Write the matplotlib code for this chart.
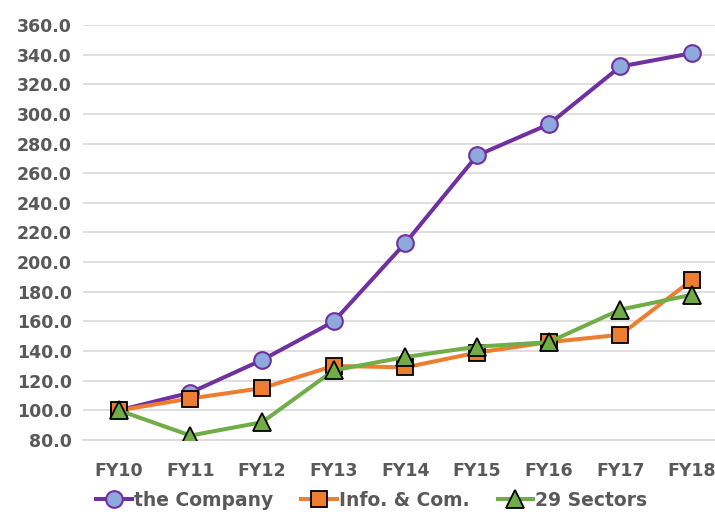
import matplotlib.pyplot as plt

years = ["FY10", "FY11", "FY12", "FY13", "FY14", "FY15", "FY16", "FY17", "FY18"]
company = [100.0, 112.0, 134.0, 160.0, 213.0, 272.0, 293.0, 332.0, 341.0]
info_com = [100.0, 108.0, 115.0, 130.0, 129.0, 139.0, 146.0, 151.0, 188.0]
sectors29 = [100.0, 83.0, 92.0, 127.0, 136.0, 143.0, 146.0, 168.0, 178.0]
yticks = [80, 100, 120, 140, 160, 180, 200, 220, 240, 260, 280, 300, 320, 340, 360]

plt.rcParams["font.family"] = ["DejaVu Sans"]
txt = "#595959"

fig = plt.figure(figsize=(7.15, 5.14), dpi=100)
ax = fig.add_axes([83 / 715, 1 - 440 / 514, 1 - 83 / 715, 415 / 514])

x = range(len(years))
ax.plot(x, company, color="#7030A0", lw=2.9, marker="o", ms=12,
        mfc="#8EA9DB", mec="#7030A0", mew=1.5, label="the Company", zorder=3)
ax.plot(x, info_com, color="#ED7D31", lw=2.9, marker="s", ms=11.5,
        mfc="#ED7D31", mec="black", mew=1.3, label="Info. & Com.", zorder=4)
ax.plot(x, sectors29, color="#70AD47", lw=2.9, marker="^", ms=12.5,
        mfc="#70AD47", mec="black", mew=1.3, label="29 Sectors", zorder=5)

ax.set_ylim(80, 360)
ax.set_xlim(-0.5, 8.32)
ax.set_yticks(yticks)
ax.set_yticklabels([f"{v:.1f}" for v in yticks])
ax.set_xticks(list(x))
ax.set_xticklabels(years)
ax.grid(axis="y", color="#d9d9d9", lw=1.2)
ax.set_axisbelow(True)
for s in ["top", "right", "left"]:
    ax.spines[s].set_visible(False)
ax.spines["bottom"].set_color("#d9d9d9")
ax.spines["bottom"].set_linewidth(1.2)
ax.tick_params(length=0, labelsize=12.5, labelcolor=txt, pad=8)
for lab in ax.get_xticklabels() + ax.get_yticklabels():
    lab.set_fontweight("bold")
ax.tick_params(axis="x", pad=16)

leg = fig.legend(loc="center", bbox_to_anchor=(0.52, 0.027), ncol=3, frameon=False,
                 prop={"size": 13.5, "weight": "bold"}, handlelength=1.9,
                 handletextpad=0.1, columnspacing=1.5)
for t in leg.get_texts():
    t.set_color(txt)

fig.savefig("out.png", dpi=100)
